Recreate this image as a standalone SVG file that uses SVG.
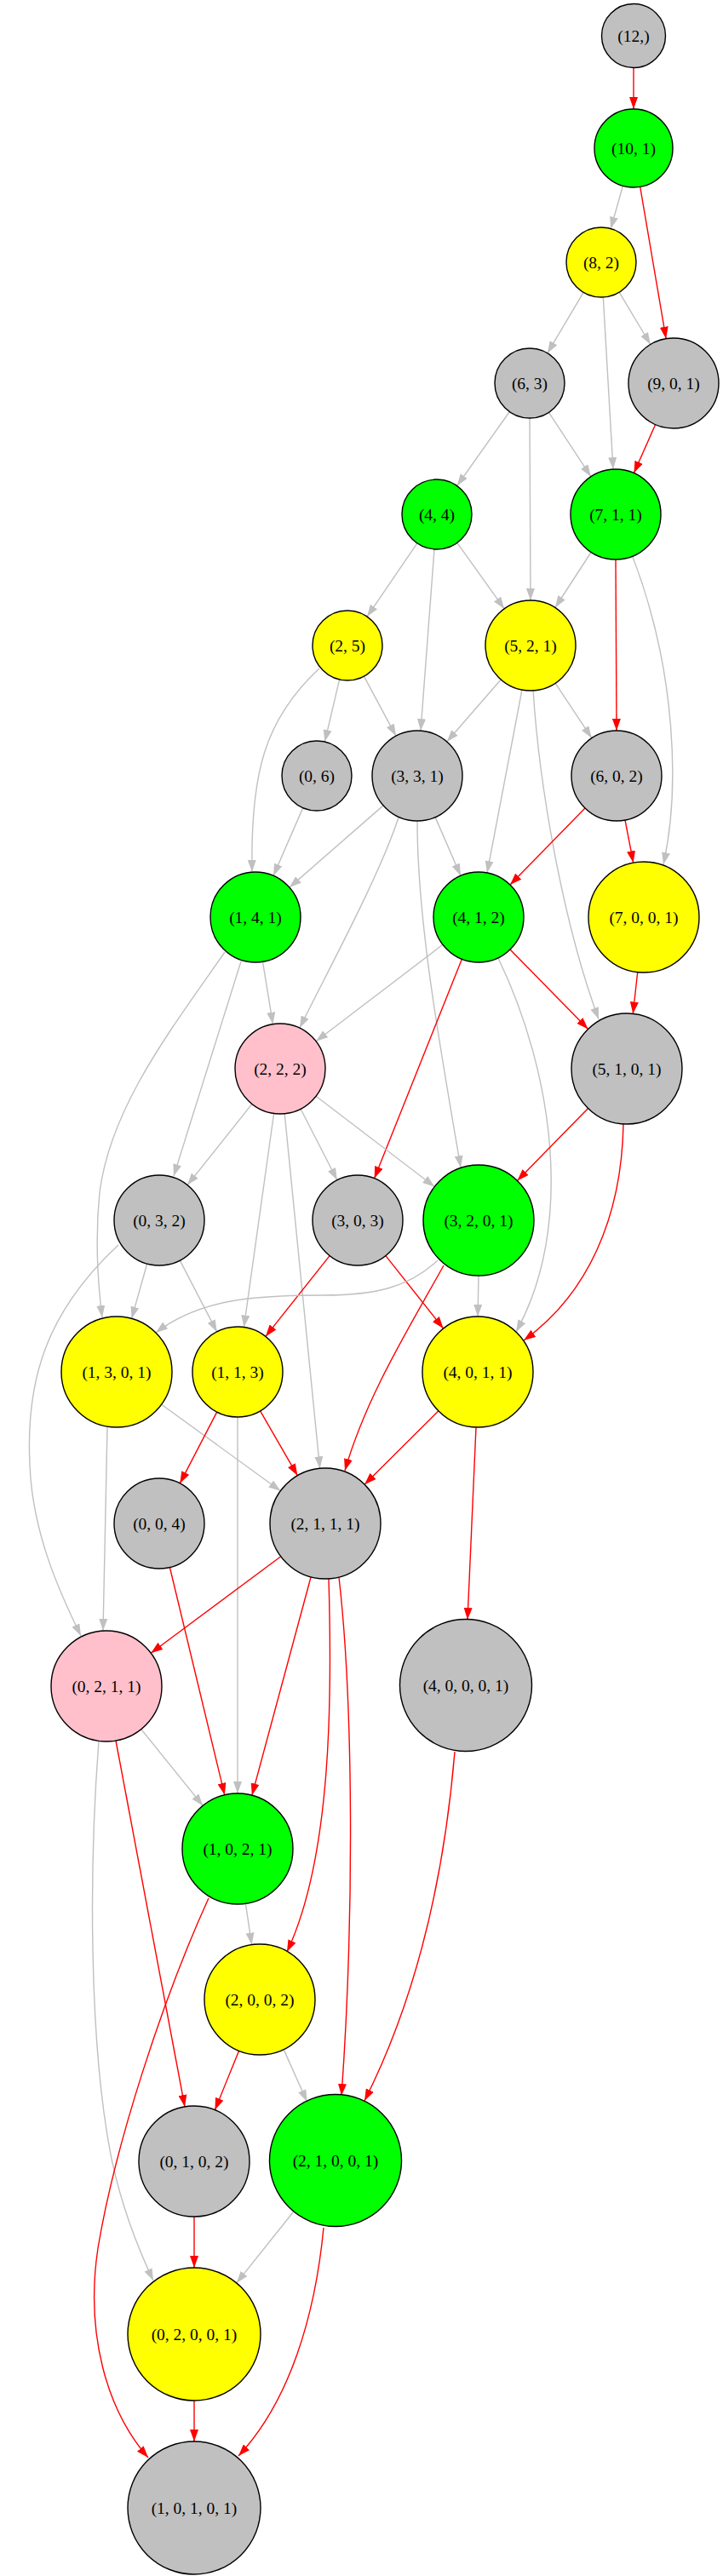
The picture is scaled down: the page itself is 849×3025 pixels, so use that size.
<svg xmlns="http://www.w3.org/2000/svg" width="849" height="3025" viewBox="0 0 849 3025">
<style>
.n circle{stroke:#000;stroke-width:1.4}
.g{fill:#c0c0c0}.gr{fill:#00ff00}.y{fill:#ffff00}.p{fill:#ffc0cb}
.n text{font-family:"Liberation Serif","Times New Roman",serif;font-size:19.5px;text-anchor:middle;fill:#000}
.e{fill:none;stroke:#c0c0c0;stroke-width:1.4;marker-end:url(#ag)}
.r{fill:none;stroke:#ff0000;stroke-width:1.4;marker-end:url(#ar)}
</style>
<defs>
<marker id="ar" markerWidth="14" markerHeight="10" refX="14" refY="5" orient="auto" markerUnits="userSpaceOnUse" viewBox="0 0 14 10"><path d="M0,0 L14,5 L0,10 z" fill="#ff0000"/></marker>
<marker id="ag" markerWidth="14" markerHeight="10" refX="14" refY="5" orient="auto" markerUnits="userSpaceOnUse" viewBox="0 0 14 10"><path d="M0,0 L14,5 L0,10 z" fill="#c0c0c0"/></marker>
</defs>
<rect width="849" height="3025" fill="#fff"/>
<g id="edges">
<path class="r" d="M744,80 L744,128"/>
<path class="e" d="M731.4,218.2 L717.2,268.6"/>
<path class="r" d="M751.7,219.4 L782.1,397.7"/>
<path class="e" d="M685.1,343.3 L642.9,414.7"/>
<path class="e" d="M708.3,348.9 L720,551.1"/>
<path class="e" d="M727.1,343.2 L763.8,404.5"/>
<path class="r" d="M769.6,498.5 L744.4,555.5"/>
<path class="e" d="M598.3,483.5 L536.7,570.5"/>
<path class="e" d="M622,491 L623,705"/>
<path class="e" d="M644.5,484.3 L693.9,559.7"/>
<path class="e" d="M694.1,648.5 L651.9,713.5"/>
<path class="r" d="M723,657 L724,858"/>
<path class="e" d="M743,654 C795,790 798,930 779,1015"/>
<path class="e" d="M489.9,637.9 L431.1,724.1"/>
<path class="e" d="M510,644.9 L494,858.2"/>
<path class="e" d="M536.8,637.4 L592.2,714.9"/>
<path class="e" d="M375,785 C310,845 294,910 296,1024"/>
<path class="e" d="M398.6,797.9 L381.4,871.1"/>
<path class="e" d="M427.4,794.1 L465,864.3"/>
<path class="e" d="M588.2,798 L524.8,871"/>
<path class="e" d="M613,810 L572,1025"/>
<path class="e" d="M626,810 C633,920 660,1080 703,1197"/>
<path class="e" d="M652.2,802.3 L694.8,866.7"/>
<path class="e" d="M355.7,948.6 L321.1,1028.3"/>
<path class="e" d="M450.1,945.9 L339.9,1042.1"/>
<path class="e" d="M468,960 C445,1030 385,1140 352,1207"/>
<path class="e" d="M490,964 C490,1080 515,1220 541,1371"/>
<path class="e" d="M511.1,959.6 L540.9,1028.3"/>
<path class="r" d="M687,949 L599,1039"/>
<path class="r" d="M734,963 L743.7,1013.2"/>
<path class="r" d="M748.7,1141.5 L743.3,1190.5"/>
<path class="e" d="M308.5,1129.3 L320.5,1202.7"/>
<path class="e" d="M283,1129 L204,1381"/>
<path class="e" d="M264,1118 C200,1210 130,1300 117,1400 C112,1450 114,1500 120,1547"/>
<path class="e" d="M519.9,1109.2 L371.1,1222.8"/>
<path class="r" d="M542.4,1126.2 L439.6,1383.8"/>
<path class="r" d="M599,1114.9 L690.6,1208.5"/>
<path class="e" d="M585,1125 C650,1260 675,1440 606,1564"/>
<path class="e" d="M295.9,1296.4 L220.1,1391.6"/>
<path class="e" d="M321.6,1307.5 L286.4,1558.5"/>
<path class="e" d="M334.2,1307.7 L375.6,1724.3"/>
<path class="e" d="M353.1,1302.2 L395.9,1385.8"/>
<path class="e" d="M371.1,1287.2 L510.3,1393.5"/>
<path class="r" d="M690.6,1301.5 L607.4,1386.5"/>
<path class="r" d="M732,1320 C730,1430 690,1520 615,1574"/>
<path class="e" d="M172.7,1484 L154.6,1548.4"/>
<path class="e" d="M211.3,1480.1 L254.7,1563.9"/>
<path class="e" d="M139,1462 C55,1540 30,1620 35,1720 C38,1800 70,1870 95,1921"/>
<path class="r" d="M387.1,1474.6 L311.9,1569.4"/>
<path class="r" d="M452.9,1474.6 L520.6,1560"/>
<path class="e" d="M514,1480 C480,1512 440,1521 380,1521 C300,1521 235,1525 183,1565"/>
<path class="r" d="M521,1486 C480,1560 430,1640 405,1727"/>
<path class="e" d="M562,1498 L561,1546"/>
<path class="e" d="M189.6,1649.2 L329.4,1750.8"/>
<path class="e" d="M126,1676 L121,1915"/>
<path class="r" d="M254.7,1658.1 L211.3,1741.9"/>
<path class="r" d="M305.6,1656.9 L349.4,1732.8"/>
<path class="e" d="M279,1664 L279,2106"/>
<path class="r" d="M514.9,1656.8 L428.1,1743.2"/>
<path class="r" d="M559,1676 L549,1902"/>
<path class="r" d="M199.4,1840.5 L263.8,2107.8"/>
<path class="r" d="M329.8,1827.8 L177.2,1941.2"/>
<path class="r" d="M365.1,1851.8 L295.9,2108.2"/>
<path class="r" d="M386,1854 C390,1990 390,2180 337,2292"/>
<path class="r" d="M398,1852 C415,2000 416,2250 401,2461"/>
<path class="r" d="M534,2057 C522,2200 492,2340 428,2467"/>
<path class="e" d="M165.8,2030.6 L238.2,2120.4"/>
<path class="r" d="M136,2044 L217,2474"/>
<path class="e" d="M116,2044 C104,2200 105,2400 130,2530 C142,2590 162,2640 180,2678"/>
<path class="e" d="M288.4,2235.3 L295.6,2283.7"/>
<path class="r" d="M245,2229 C190,2350 135,2520 115,2640 C100,2740 125,2830 174,2886"/>
<path class="r" d="M280.6,2408.3 L252.4,2477.7"/>
<path class="e" d="M333.1,2406.6 L360.5,2468"/>
<path class="r" d="M228,2603 L228,2663"/>
<path class="e" d="M344,2598 L277.8,2680.9"/>
<path class="r" d="M380,2616 C370,2720 340,2820 280,2884"/>
<path class="r" d="M228,2819 L228,2867"/>
</g>
<g id="n_12" class="n"><circle class="g" cx="744" cy="42" r="37.5"/><text x="744" y="48.5">(12,)</text></g>
<g id="n_10_1" class="n"><circle class="gr" cx="744" cy="174" r="46"/><text x="744" y="180.5">(10, 1)</text></g>
<g id="n_8_2" class="n"><circle class="y" cx="706" cy="308" r="41"/><text x="706" y="314.5">(8, 2)</text></g>
<g id="n_9_0_1" class="n"><circle class="g" cx="791" cy="450" r="53"/><text x="791" y="456.5">(9, 0, 1)</text></g>
<g id="n_6_3" class="n"><circle class="g" cx="622" cy="450" r="41"/><text x="622" y="456.5">(6, 3)</text></g>
<g id="n_4_4" class="n"><circle class="gr" cx="513" cy="604" r="41"/><text x="513" y="610.5">(4, 4)</text></g>
<g id="n_7_1_1" class="n"><circle class="gr" cx="723" cy="604" r="53"/><text x="723" y="610.5">(7, 1, 1)</text></g>
<g id="n_2_5" class="n"><circle class="y" cx="408" cy="758" r="41"/><text x="408" y="764.5">(2, 5)</text></g>
<g id="n_5_2_1" class="n"><circle class="y" cx="623" cy="758" r="53"/><text x="623" y="764.5">(5, 2, 1)</text></g>
<g id="n_0_6" class="n"><circle class="g" cx="372" cy="911" r="41"/><text x="372" y="917.5">(0, 6)</text></g>
<g id="n_3_3_1" class="n"><circle class="g" cx="490" cy="911" r="53"/><text x="490" y="917.5">(3, 3, 1)</text></g>
<g id="n_6_0_2" class="n"><circle class="g" cx="724" cy="911" r="53"/><text x="724" y="917.5">(6, 0, 2)</text></g>
<g id="n_1_4_1" class="n"><circle class="gr" cx="300" cy="1077" r="53"/><text x="300" y="1083.5">(1, 4, 1)</text></g>
<g id="n_4_1_2" class="n"><circle class="gr" cx="562" cy="1077" r="53"/><text x="562" y="1083.5">(4, 1, 2)</text></g>
<g id="n_7_0_0_1" class="n"><circle class="y" cx="756" cy="1077" r="65"/><text x="756" y="1083.5">(7, 0, 0, 1)</text></g>
<g id="n_2_2_2" class="n"><circle class="p" cx="329" cy="1255" r="53"/><text x="329" y="1261.5">(2, 2, 2)</text></g>
<g id="n_5_1_0_1" class="n"><circle class="g" cx="736" cy="1255" r="65"/><text x="736" y="1261.5">(5, 1, 0, 1)</text></g>
<g id="n_0_3_2" class="n"><circle class="g" cx="187" cy="1433" r="53"/><text x="187" y="1439.5">(0, 3, 2)</text></g>
<g id="n_3_0_3" class="n"><circle class="g" cx="420" cy="1433" r="53"/><text x="420" y="1439.5">(3, 0, 3)</text></g>
<g id="n_3_2_0_1" class="n"><circle class="gr" cx="562" cy="1433" r="65"/><text x="562" y="1439.5">(3, 2, 0, 1)</text></g>
<g id="n_1_3_0_1" class="n"><circle class="y" cx="137" cy="1611" r="65"/><text x="137" y="1617.5">(1, 3, 0, 1)</text></g>
<g id="n_1_1_3" class="n"><circle class="y" cx="279" cy="1611" r="53"/><text x="279" y="1617.5">(1, 1, 3)</text></g>
<g id="n_4_0_1_1" class="n"><circle class="y" cx="561" cy="1611" r="65"/><text x="561" y="1617.5">(4, 0, 1, 1)</text></g>
<g id="n_0_0_4" class="n"><circle class="g" cx="187" cy="1789" r="53"/><text x="187" y="1795.5">(0, 0, 4)</text></g>
<g id="n_2_1_1_1" class="n"><circle class="g" cx="382" cy="1789" r="65"/><text x="382" y="1795.5">(2, 1, 1, 1)</text></g>
<g id="n_0_2_1_1" class="n"><circle class="p" cx="125" cy="1980" r="65"/><text x="125" y="1986.5">(0, 2, 1, 1)</text></g>
<g id="n_4_0_0_0_1" class="n"><circle class="g" cx="547" cy="1979" r="77.5"/><text x="547" y="1985.5">(4, 0, 0, 0, 1)</text></g>
<g id="n_1_0_2_1" class="n"><circle class="gr" cx="279" cy="2171" r="65"/><text x="279" y="2177.5">(1, 0, 2, 1)</text></g>
<g id="n_2_0_0_2" class="n"><circle class="y" cx="305" cy="2348" r="65"/><text x="305" y="2354.5">(2, 0, 0, 2)</text></g>
<g id="n_0_1_0_2" class="n"><circle class="g" cx="228" cy="2538" r="65"/><text x="228" y="2544.5">(0, 1, 0, 2)</text></g>
<g id="n_2_1_0_0_1" class="n"><circle class="gr" cx="394" cy="2537" r="77.5"/><text x="394" y="2543.5">(2, 1, 0, 0, 1)</text></g>
<g id="n_0_2_0_0_1" class="n"><circle class="y" cx="228" cy="2741" r="78"/><text x="228" y="2747.5">(0, 2, 0, 0, 1)</text></g>
<g id="n_1_0_1_0_1" class="n"><circle class="g" cx="228" cy="2945" r="78"/><text x="228" y="2951.5">(1, 0, 1, 0, 1)</text></g>
</svg>
